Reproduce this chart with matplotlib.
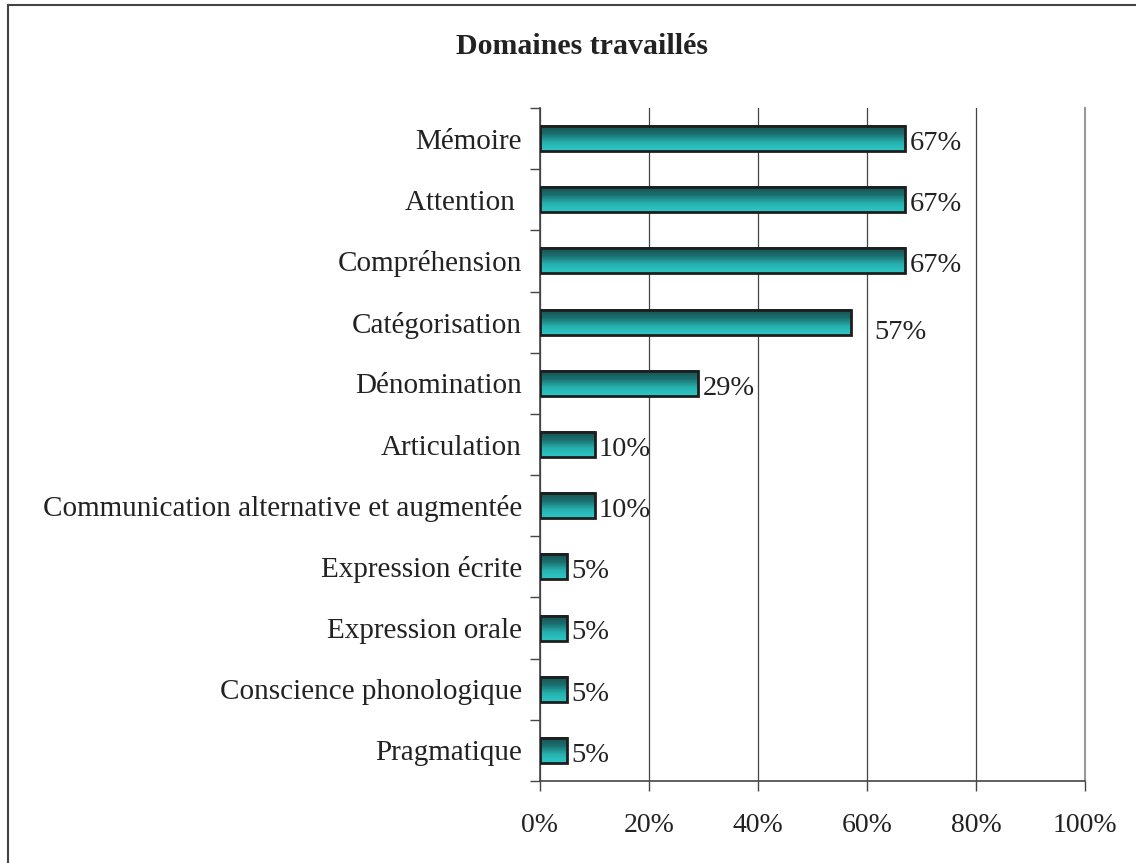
import matplotlib
matplotlib.use("Agg")
import matplotlib.pyplot as plt
from matplotlib.lines import Line2D
from matplotlib.colors import LinearSegmentedColormap
import numpy as np

plt.rcParams['font.family'] = ['Liberation Serif', 'DejaVu Serif']

categories = ["Mémoire", "Attention ", "Compréhension", "Catégorisation", "Dénomination",
              "Articulation", "Communication alternative et augmentée", "Expression écrite",
              "Expression orale", "Conscience phonologique", "Pragmatique"]
values = [67, 67, 67, 57, 29, 10, 10, 5, 5, 5, 5]
xticks = [0, 20, 40, 60, 80, 100]

fig = plt.figure(figsize=(11.36, 8.63), dpi=100)
ax = fig.add_axes([540/1136, 1-781/863, 545/1136, 673/863])

y = np.arange(len(categories))
h = 0.41
bars = ax.barh(y, values, height=h, facecolor='none', edgecolor='#1e1e1e', linewidth=2, zorder=4)

# degrade vertical dans chaque barre
cmap = LinearSegmentedColormap.from_list('teal', ['#2ec8c6', '#27b0ae', '#1a6f6e', '#174f50'])
grad = np.linspace(0, 1, 64).reshape(-1, 1)
for yi, v in zip(y, values):
    ax.imshow(grad, cmap=cmap, aspect='auto', origin='lower',
              extent=(0, v, yi + h/2, yi - h/2), zorder=3, interpolation='bilinear')

for yi, v in zip(y, values):
    if v == 57:
        ax.text(v + 4.3, yi + 0.12, f"{v}%", va='center_baseline', ha='left', fontsize=20.5, color='#222222')
    else:
        ax.text(v + 0.8, yi + 0.03, f"{v}%", va='center_baseline', ha='left', fontsize=20.5, color='#222222')

ax.set_xlim(0, 100)
ax.set_ylim(len(categories) - 0.5, -0.5)
ax.set_xticks(xticks)
ax.set_xticklabels([f"{t}%" for t in xticks], fontsize=20, color='#222222')
ax.set_yticks(y)
ax.set_yticklabels(categories, fontsize=21, color='#222222', va='center_baseline')
ax.tick_params(axis='y', length=0, pad=13)
ax.set_yticks(np.arange(len(categories) + 1) - 0.5, minor=True)
ax.tick_params(axis='y', which='minor', length=7, width=1, color='#444444')
ax.tick_params(axis='x', length=7, width=1, color='#444444', pad=16)

ax.grid(axis='x', color='#444444', linewidth=0.9, zorder=1)
ax.set_axisbelow(True)
ax.spines['top'].set_visible(False)
ax.spines['right'].set_color('#999999')
ax.spines['right'].set_linewidth(1.5)
ax.spines['left'].set_color('#444444')
ax.spines['bottom'].set_color('#444444')
ax.spines['left'].set_linewidth(1.2)
ax.spines['bottom'].set_linewidth(1.2)

fig.text(582/1136, 1-47/863, "Domaines travaillés", ha='center', va='center',
         fontsize=21.5, fontweight='bold', color='#222222')

# cadre de la figure (gauche et haut seulement)
fig.add_artist(Line2D([8/1136, 8/1136], [0, 1-5/863], transform=fig.transFigure, color='#444444', linewidth=1.5))
fig.add_artist(Line2D([8/1136, 1], [1-5/863, 1-5/863], transform=fig.transFigure, color='#444444', linewidth=1.5))

fig.savefig("out.png", dpi=100, facecolor='white')
